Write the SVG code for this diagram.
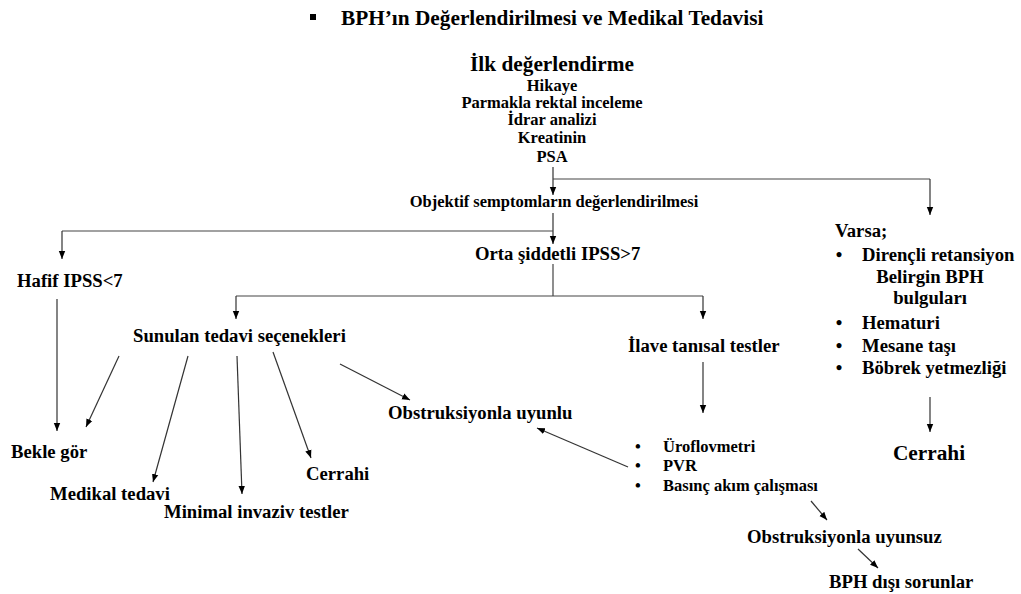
<svg xmlns="http://www.w3.org/2000/svg" width="1021" height="594" viewBox="0 0 1021 594">
<defs>
<marker id="ah" markerUnits="userSpaceOnUse" markerWidth="8" markerHeight="8" viewBox="0 0 8 8" refX="8" refY="4" orient="auto">
<path d="M0,0.8 L8,4 L0,7.2 Z" fill="#000"/>
</marker>
<style>
text{font-family:"Liberation Serif","Times New Roman",serif;font-weight:bold;fill:#000;}
.m{font-size:18.7px;}
.s{font-size:16.5px;}
.l{font-size:21.3px;}
.c{text-anchor:middle;}
.ln{fill:none;stroke:#444;stroke-width:1.2;}
.ar{fill:none;stroke:#333;stroke-width:1.2;marker-end:url(#ah);}
</style>
</defs>
<rect width="1021" height="594" fill="#fff"/>
<g id="title">
<rect x="310" y="14" width="6" height="6" fill="#000"/>
<text class="l" x="341" y="25">BPH’ın Değerlendirilmesi ve Medikal Tedavisi</text>
</g>
<g id="ilk">
<text class="l c" x="552" y="71">İlk değerlendirme</text>
<text class="s c" x="552" y="91">Hikaye</text>
<text class="s c" x="552" y="108">Parmakla rektal inceleme</text>
<text class="s c" x="552" y="125">İdrar analizi</text>
<text class="s c" x="552" y="143">Kreatinin</text>
<text class="s c" x="552" y="162">PSA</text>
</g>
<g id="objektif"><text class="s c" x="554" y="207">Objektif semptomların değerlendirilmesi</text></g>
<g id="hafif"><text class="m" x="17" y="287">Hafif IPSS&lt;7</text></g>
<g id="orta"><text class="m" x="475" y="260">Orta şiddetli IPSS&gt;7</text></g>
<g id="sunulan"><text class="m" x="133" y="342">Sunulan tedavi seçenekleri</text></g>
<g id="ilave"><text class="m" x="628" y="352">İlave tanısal testler</text></g>
<g id="bekle"><text class="m" x="11" y="458">Bekle gör</text></g>
<g id="medikal"><text class="m" x="50" y="500">Medikal tedavi</text></g>
<g id="minimal"><text class="m" x="164" y="518">Minimal invaziv testler</text></g>
<g id="cerrahi1"><text class="m" x="306" y="480">Cerrahi</text></g>
<g id="uyumlu"><text class="m" x="388" y="419">Obstruksiyonla uyunlu</text></g>
<g id="testler">
<text class="s c" x="638" y="452">•</text><text class="s" x="663" y="452">Üroflovmetri</text>
<text class="s c" x="638" y="471">•</text><text class="s" x="663" y="471">PVR</text>
<text class="s c" x="638" y="491">•</text><text class="s" x="663" y="491">Basınç akım çalışması</text>
</g>
<g id="uyumsuz"><text class="m" x="747" y="543">Obstruksiyonla uyunsuz</text></g>
<g id="bphdisi"><text class="m" x="829" y="588">BPH dışı sorunlar</text></g>
<g id="varsa">
<text class="m" x="835" y="237">Varsa;</text>
<text class="m c" x="839" y="261">•</text><text class="m" x="862" y="261">Dirençli retansiyon</text>
<text class="m c" x="930" y="283">Belirgin BPH</text>
<text class="m c" x="930" y="304">bulguları</text>
<text class="m c" x="839" y="329">•</text><text class="m" x="862" y="329">Hematuri</text>
<text class="m c" x="839" y="352">•</text><text class="m" x="862" y="352">Mesane taşı</text>
<text class="m c" x="839" y="374">•</text><text class="m" x="862" y="374">Böbrek yetmezliği</text>
</g>
<g id="cerrahi2"><text class="l c" x="929" y="460">Cerrahi</text></g>
<g id="connectors">
<path class="ar" d="M553,167 V195"/>
<path class="ln" d="M553,179 H930"/>
<path class="ar" d="M930,179 V215"/>
<path class="ar" d="M553,213 V244"/>
<path class="ln" d="M553,231 H62"/>
<path class="ar" d="M62,231 V259"/>
<path class="ln" d="M553,264 V296"/>
<path class="ln" d="M236,296 H703"/>
<path class="ar" d="M236,296 V319"/>
<path class="ar" d="M703,296 V319"/>
<path class="ar" d="M57,299 V431"/>
<path class="ar" d="M119,356 L86,427"/>
<path class="ar" d="M188,356 L153,482"/>
<path class="ar" d="M237,356 L242,494"/>
<path class="ar" d="M273,352 L311,458"/>
<path class="ar" d="M340,364 L410,400"/>
<path class="ar" d="M703,362 V413"/>
<path class="ar" d="M628,467 L537,428"/>
<path class="ar" d="M811,501 L827,520"/>
<path class="ar" d="M858,549 L878,568"/>
<path class="ar" d="M930,397 V432"/>
</g>
</svg>
